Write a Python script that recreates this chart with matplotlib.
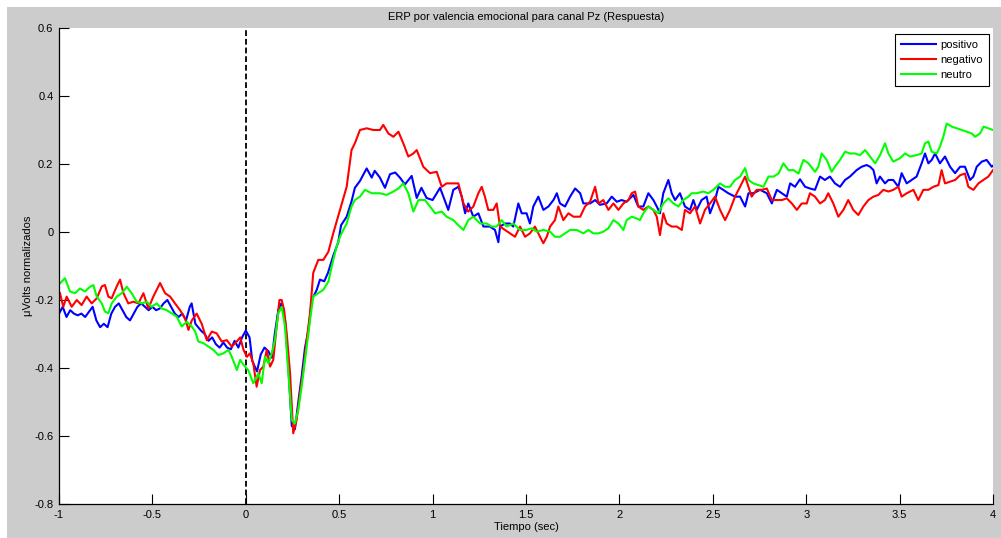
import matplotlib
matplotlib.use("Agg")
import matplotlib.pyplot as plt
from matplotlib.patches import Rectangle

plt.rcParams['font.family'] = ['Liberation Sans', 'DejaVu Sans']
plt.rcParams['axes.unicode_minus'] = False

# ---- data: grand-average ERP at Pz, one trace per emotional valence ----
t_pos = [-1.00, -0.98, -0.96, -0.94, -0.92, -0.90, -0.88, -0.86, -0.84, -0.82,
         -0.80, -0.78, -0.76, -0.74, -0.72, -0.70, -0.68, -0.66, -0.64, -0.62,
         -0.60, -0.58, -0.56, -0.54, -0.52, -0.50, -0.48, -0.46, -0.44, -0.42,
         -0.40, -0.38, -0.36, -0.34, -0.32, -0.30, -0.29, -0.27, -0.24, -0.22,
         -0.20, -0.18, -0.16, -0.14, -0.12, -0.10, -0.08, -0.06, -0.04, -0.02,
         0.00, 0.02, 0.035, 0.06, 0.08, 0.10, 0.12, 0.14, 0.155, 0.174,
         0.19, 0.21, 0.228, 0.246, 0.263, 0.281, 0.30, 0.317, 0.335, 0.353,
         0.38, 0.397, 0.42, 0.44, 0.468, 0.495, 0.51, 0.54, 0.566, 0.584,
         0.611, 0.647, 0.674, 0.69, 0.718, 0.745, 0.772, 0.80, 0.825, 0.852,
         0.888, 0.915, 0.94, 0.968, 1.00, 1.04, 1.084, 1.111, 1.138, 1.156,
         1.174, 1.191, 1.218, 1.245, 1.272, 1.307, 1.334, 1.352, 1.361, 1.388,
         1.414, 1.432, 1.459, 1.477, 1.503, 1.521, 1.539, 1.566, 1.593, 1.62,
         1.647, 1.665, 1.682, 1.709, 1.736, 1.763, 1.79, 1.807, 1.843, 1.87,
         1.896, 1.932, 1.959, 1.986, 2.012, 2.039, 2.075, 2.101, 2.128, 2.155,
         2.182, 2.20, 2.217, 2.235, 2.262, 2.28, 2.298, 2.324, 2.351, 2.378,
         2.396, 2.414, 2.44, 2.467, 2.485, 2.512, 2.53, 2.556, 2.583, 2.619,
         2.646, 2.673, 2.691, 2.717, 2.753, 2.789, 2.816, 2.843, 2.87, 2.896,
         2.914, 2.94, 2.967, 2.994, 3.02, 3.047, 3.074, 3.10, 3.127, 3.154,
         3.181, 3.208, 3.234, 3.27, 3.297, 3.324, 3.342, 3.36, 3.377, 3.395,
         3.422, 3.44, 3.466, 3.493, 3.511, 3.538, 3.565, 3.591, 3.618, 3.636,
         3.654, 3.672, 3.69, 3.716, 3.743, 3.77, 3.797, 3.824, 3.85, 3.877,
         3.895, 3.913, 3.94, 3.966, 3.993, 4.00]
v_pos = [-0.24, -0.22, -0.25, -0.23, -0.24, -0.245, -0.24, -0.25, -0.235, -0.22,
         -0.26, -0.28, -0.27, -0.28, -0.24, -0.22, -0.21, -0.23, -0.25, -0.26,
         -0.24, -0.22, -0.21, -0.22, -0.23, -0.22, -0.23, -0.225, -0.21, -0.20,
         -0.22, -0.24, -0.25, -0.24, -0.26, -0.22, -0.21, -0.27, -0.29, -0.30,
         -0.32, -0.31, -0.33, -0.34, -0.325, -0.34, -0.345, -0.32, -0.34, -0.31,
         -0.29, -0.31, -0.38, -0.41, -0.36, -0.34, -0.35, -0.37, -0.30, -0.23,
         -0.21, -0.26, -0.40, -0.57, -0.58, -0.50, -0.42, -0.34, -0.29, -0.20,
         -0.17, -0.14, -0.145, -0.12, -0.07, -0.03, 0.02, 0.045, 0.09, 0.13,
         0.15, 0.187, 0.16, 0.18, 0.16, 0.13, 0.17, 0.175, 0.16, 0.14,
         0.165, 0.10, 0.13, 0.10, 0.094, 0.13, 0.065, 0.124, 0.133, 0.104,
         0.055, 0.084, 0.045, 0.055, 0.016, 0.016, 0.006, -0.03, 0.016, 0.025,
         0.025, 0.016, 0.084, 0.055, 0.055, 0.025, 0.075, 0.104, 0.065, 0.075,
         0.094, 0.114, 0.084, 0.075, 0.104, 0.128, 0.114, 0.084, 0.084, 0.094,
         0.08, 0.084, 0.104, 0.089, 0.094, 0.089, 0.109, 0.075, 0.075, 0.114,
         0.094, 0.075, 0.055, 0.114, 0.153, 0.114, 0.094, 0.114, 0.075, 0.065,
         0.094, 0.065, 0.094, 0.104, 0.055, 0.094, 0.133, 0.124, 0.114, 0.104,
         0.104, 0.075, 0.114, 0.114, 0.124, 0.114, 0.084, 0.124, 0.114, 0.104,
         0.143, 0.133, 0.155, 0.133, 0.128, 0.124, 0.163, 0.153, 0.163, 0.143,
         0.133, 0.153, 0.163, 0.182, 0.192, 0.197, 0.192, 0.182, 0.143, 0.163,
         0.143, 0.153, 0.153, 0.133, 0.173, 0.143, 0.153, 0.163, 0.202, 0.231,
         0.202, 0.212, 0.231, 0.202, 0.222, 0.192, 0.173, 0.192, 0.192, 0.153,
         0.163, 0.192, 0.207, 0.212, 0.192, 0.195]

t_neg = [-0.995, -0.977, -0.959, -0.932, -0.905, -0.879, -0.852, -0.825, -0.798, -0.771,
         -0.754, -0.736, -0.718, -0.691, -0.673, -0.655, -0.629, -0.602, -0.575, -0.548,
         -0.522, -0.495, -0.477, -0.459, -0.432, -0.405, -0.379, -0.352, -0.325, -0.307,
         -0.289, -0.263, -0.236, -0.209, -0.182, -0.156, -0.129, -0.102, -0.075, -0.048,
         -0.030, -0.012, 0.006, 0.022, 0.04, 0.058, 0.076, 0.094, 0.112, 0.13,
         0.147, 0.165, 0.18, 0.192, 0.205, 0.219, 0.237, 0.254, 0.272, 0.29,
         0.308, 0.326, 0.344, 0.361, 0.388, 0.415, 0.442, 0.468, 0.504, 0.54,
         0.566, 0.584, 0.611, 0.647, 0.683, 0.718, 0.736, 0.763, 0.79, 0.817,
         0.843, 0.87, 0.897, 0.915, 0.95, 0.986, 1.022, 1.049, 1.075, 1.111,
         1.138, 1.165, 1.191, 1.218, 1.245, 1.263, 1.28, 1.298, 1.325, 1.343,
         1.361, 1.388, 1.414, 1.441, 1.468, 1.495, 1.521, 1.548, 1.575, 1.593,
         1.611, 1.629, 1.655, 1.673, 1.70, 1.727, 1.754, 1.79, 1.816, 1.843,
         1.87, 1.888, 1.914, 1.941, 1.968, 1.995, 2.021, 2.048, 2.066, 2.084,
         2.101, 2.128, 2.155, 2.182, 2.20, 2.217, 2.235, 2.253, 2.28, 2.307,
         2.334, 2.351, 2.378, 2.405, 2.432, 2.458, 2.485, 2.512, 2.539, 2.566,
         2.592, 2.619, 2.646, 2.673, 2.691, 2.708, 2.735, 2.762, 2.789, 2.816,
         2.843, 2.87, 2.896, 2.923, 2.95, 2.976, 3.003, 3.02, 3.047, 3.074,
         3.10, 3.118, 3.145, 3.172, 3.199, 3.225, 3.252, 3.279, 3.306, 3.333,
         3.36, 3.386, 3.413, 3.44, 3.466, 3.493, 3.511, 3.538, 3.574, 3.60,
         3.627, 3.654, 3.681, 3.708, 3.725, 3.743, 3.77, 3.797, 3.824, 3.85,
         3.868, 3.895, 3.922, 3.949, 3.975, 4.00]
v_neg = [-0.18, -0.22, -0.19, -0.22, -0.20, -0.215, -0.19, -0.21, -0.195, -0.16,
         -0.156, -0.19, -0.195, -0.16, -0.14, -0.18, -0.21, -0.205, -0.21, -0.18,
         -0.225, -0.19, -0.17, -0.15, -0.18, -0.19, -0.21, -0.23, -0.254, -0.288,
         -0.26, -0.24, -0.27, -0.318, -0.293, -0.298, -0.322, -0.318, -0.337, -0.322,
         -0.31, -0.347, -0.367, -0.357, -0.386, -0.455, -0.406, -0.396, -0.347, -0.396,
         -0.376, -0.278, -0.20, -0.20, -0.229, -0.298, -0.416, -0.592, -0.553, -0.474,
         -0.406, -0.317, -0.239, -0.12, -0.082, -0.082, -0.058, -0.004, 0.065, 0.133,
         0.241, 0.261, 0.30, 0.305, 0.30, 0.30, 0.315, 0.29, 0.28, 0.295,
         0.261, 0.222, 0.231, 0.241, 0.192, 0.173, 0.177, 0.133, 0.143, 0.143,
         0.143, 0.084, 0.06, 0.075, 0.114, 0.133, 0.104, 0.065, 0.065, 0.084,
         0.016, 0.006, -0.004, -0.014, 0.016, -0.014, -0.004, 0.016, -0.014, -0.033,
         -0.014, 0.016, 0.035, 0.075, 0.035, 0.055, 0.045, 0.045, 0.075, 0.089,
         0.133, 0.084, 0.094, 0.065, 0.084, 0.065, 0.084, 0.094, 0.114, 0.119,
         0.075, 0.065, 0.075, 0.065, 0.045, -0.009, 0.055, 0.025, 0.016, 0.016,
         0.006, 0.065, 0.055, 0.075, 0.025, 0.065, 0.084, 0.104, 0.065, 0.035,
         0.065, 0.104, 0.133, 0.163, 0.133, 0.104, 0.124, 0.124, 0.128, 0.094,
         0.094, 0.094, 0.099, 0.084, 0.065, 0.084, 0.084, 0.114, 0.104, 0.084,
         0.094, 0.114, 0.084, 0.045, 0.065, 0.094, 0.065, 0.05, 0.075, 0.094,
         0.104, 0.109, 0.124, 0.119, 0.124, 0.133, 0.104, 0.114, 0.124, 0.094,
         0.124, 0.124, 0.133, 0.138, 0.182, 0.143, 0.148, 0.153, 0.167, 0.172,
         0.133, 0.124, 0.143, 0.153, 0.163, 0.182]

t_neu = [-0.995, -0.968, -0.941, -0.914, -0.888, -0.861, -0.834, -0.816, -0.798, -0.771,
         -0.754, -0.736, -0.718, -0.691, -0.664, -0.637, -0.611, -0.584, -0.557, -0.53,
         -0.504, -0.477, -0.45, -0.423, -0.397, -0.37, -0.343, -0.316, -0.289, -0.271,
         -0.254, -0.227, -0.20, -0.173, -0.147, -0.12, -0.093, -0.075, -0.048, -0.030,
         -0.012, 0.013, 0.04, 0.067, 0.085, 0.103, 0.121, 0.139, 0.156, 0.174,
         0.192, 0.21, 0.228, 0.246, 0.263, 0.281, 0.299, 0.317, 0.344, 0.361,
         0.388, 0.415, 0.442, 0.468, 0.486, 0.504, 0.522, 0.54, 0.566, 0.584,
         0.611, 0.638, 0.674, 0.718, 0.754, 0.79, 0.817, 0.843, 0.87, 0.897,
         0.924, 0.959, 0.986, 1.013, 1.049, 1.075, 1.111, 1.138, 1.165, 1.191,
         1.218, 1.254, 1.29, 1.316, 1.343, 1.37, 1.396, 1.432, 1.468, 1.503,
         1.53, 1.557, 1.593, 1.629, 1.655, 1.682, 1.709, 1.736, 1.772, 1.807,
         1.834, 1.861, 1.888, 1.914, 1.941, 1.968, 1.995, 2.021, 2.039, 2.066,
         2.092, 2.11, 2.128, 2.155, 2.182, 2.208, 2.235, 2.262, 2.289, 2.316,
         2.342, 2.369, 2.387, 2.414, 2.449, 2.476, 2.503, 2.539, 2.566, 2.592,
         2.619, 2.646, 2.673, 2.691, 2.717, 2.744, 2.771, 2.798, 2.825, 2.852,
         2.878, 2.905, 2.932, 2.959, 2.985, 3.012, 3.047, 3.065, 3.083, 3.11,
         3.136, 3.154, 3.181, 3.208, 3.234, 3.261, 3.288, 3.315, 3.342, 3.369,
         3.395, 3.422, 3.44, 3.466, 3.502, 3.529, 3.556, 3.591, 3.618, 3.636,
         3.654, 3.672, 3.699, 3.716, 3.734, 3.752, 3.779, 3.806, 3.832, 3.859,
         3.886, 3.904, 3.931, 3.949, 3.975, 4.00]
v_neu = [-0.151, -0.136, -0.175, -0.18, -0.166, -0.175, -0.161, -0.156, -0.19, -0.21,
         -0.234, -0.239, -0.21, -0.19, -0.18, -0.161, -0.18, -0.205, -0.21, -0.205,
         -0.22, -0.21, -0.225, -0.23, -0.239, -0.249, -0.278, -0.264, -0.278, -0.293,
         -0.322, -0.327, -0.337, -0.347, -0.362, -0.357, -0.347, -0.367, -0.406, -0.376,
         -0.391, -0.406, -0.445, -0.416, -0.445, -0.367, -0.386, -0.357, -0.317, -0.239,
         -0.22, -0.278, -0.416, -0.553, -0.563, -0.523, -0.455, -0.376, -0.259, -0.19,
         -0.18, -0.17, -0.146, -0.082, -0.043, -0.014, 0.006, 0.025, 0.075, 0.094,
         0.104, 0.124, 0.114, 0.114, 0.109, 0.119, 0.128, 0.143, 0.114, 0.06,
         0.094, 0.094, 0.075, 0.055, 0.06, 0.045, 0.035, 0.02, 0.006, 0.035,
         0.045, 0.025, 0.025, 0.016, 0.016, 0.035, 0.016, 0.025, 0.006, 0.006,
         0.011, 0.001, 0.006, 0.001, -0.014, -0.014, -0.004, 0.006, 0.006, -0.004,
         0.006, -0.004, -0.004, 0.001, 0.011, 0.035, 0.025, 0.006, 0.035, 0.045,
         0.04, 0.035, 0.055, 0.075, 0.065, 0.055, 0.084, 0.099, 0.084, 0.075,
         0.094, 0.104, 0.114, 0.114, 0.119, 0.114, 0.124, 0.143, 0.133, 0.133,
         0.153, 0.163, 0.188, 0.153, 0.143, 0.138, 0.133, 0.163, 0.163, 0.172,
         0.202, 0.182, 0.182, 0.172, 0.212, 0.202, 0.177, 0.192, 0.231, 0.212,
         0.177, 0.192, 0.212, 0.236, 0.231, 0.231, 0.226, 0.241, 0.222, 0.202,
         0.226, 0.261, 0.231, 0.207, 0.217, 0.231, 0.222, 0.226, 0.231, 0.261,
         0.266, 0.236, 0.231, 0.251, 0.28, 0.319, 0.31, 0.305, 0.30, 0.295,
         0.29, 0.28, 0.29, 0.31, 0.305, 0.30]

labels = ['positivo', 'negativo', 'neutro']
colors = ['#0000ff', '#ff0000', '#00ff00']

x_ticks = [-1, -0.5, 0, 0.5, 1, 1.5, 2, 2.5, 3, 3.5, 4]
x_tick_labels = ['-1', '-0.5', '0', '0.5', '1', '1.5', '2', '2.5', '3', '3.5', '4']
y_ticks = [-0.8, -0.6, -0.4, -0.2, 0, 0.2, 0.4, 0.6]
y_tick_labels = ['-0.8', '-0.6', '-0.4', '-0.2', '0', '0.2', '0.4', '0.6']

title = 'ERP por valencia emocional para canal Pz (Respuesta)'
xlabel = 'Tiempo (sec)'
ylabel = 'μVolts normalizados'

# ---- figure ----
W, H = 1001, 538
fig = plt.figure(figsize=(W / 100, H / 100), dpi=100, facecolor='white')
fig.patches.append(Rectangle((7 / W, 0), 1 - 7 / W, 1 - 7 / H,
                             transform=fig.transFigure, facecolor='#cccccc',
                             edgecolor='none', zorder=-10))

ax = fig.add_axes([59 / W, (H - 504) / H, (993 - 59) / W, (504 - 28) / H])
ax.set_facecolor('white')

for t, v, lab, col in zip([t_pos, t_neg, t_neu], [v_pos, v_neg, v_neu], labels, colors):
    ax.plot(t, v, color=col, lw=1.5, label=lab)

ax.axvline(0, color='black', ls=(0, (3.2, 1.6)), lw=1.3, zorder=1)

ax.set_xlim(-1, 4)
ax.set_ylim(-0.8, 0.6)
ax.set_xticks(x_ticks)
ax.set_xticklabels(x_tick_labels)
ax.set_yticks(y_ticks)
ax.set_yticklabels(y_tick_labels)
ax.tick_params(direction='in', length=7, width=0.8, labelsize=8, pad=4, colors='black')

for side in ('top', 'right'):
    ax.spines[side].set_visible(False)
for side in ('left', 'bottom'):
    ax.spines[side].set_linewidth(0.9)

ax.set_title(title, fontsize=8, pad=6)
ax.set_xlabel(xlabel, fontsize=8, labelpad=2)
ax.set_ylabel(ylabel, fontsize=8, labelpad=1)

leg = ax.legend(loc='upper right', bbox_to_anchor=(0.9957, 0.9874), borderaxespad=0,
                fontsize=8, frameon=True, fancybox=False, framealpha=1,
                edgecolor='black', handlelength=3.1, handletextpad=0.4,
                labelspacing=0.45, borderpad=0.55)
leg.get_frame().set_linewidth(0.8)
for line in leg.get_lines():
    line.set_linewidth(1.5)

fig.savefig('out.png', dpi=100, facecolor=fig.get_facecolor())
